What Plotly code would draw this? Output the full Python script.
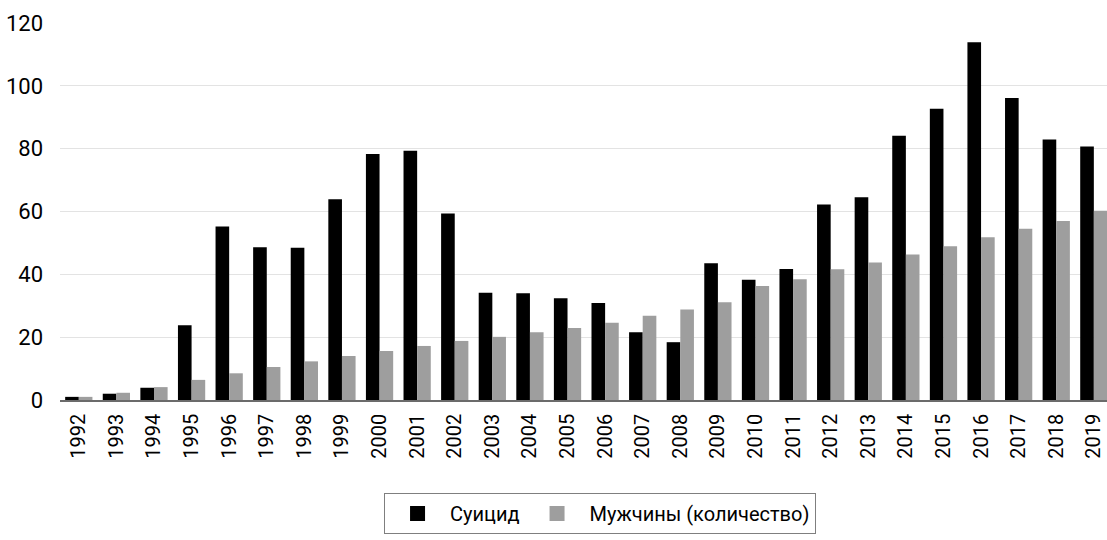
import plotly.graph_objects as go

years = [str(y) for y in range(1992, 2020)]
suicide = [1.0, 2.0, 3.9, 23.8, 55.2, 48.6, 48.5, 63.9, 78.3, 79.3,
           59.4, 34.1, 34.0, 32.4, 30.9, 21.6, 18.4, 43.5, 38.3, 41.7,
           62.2, 64.5, 84.1, 92.7, 113.9, 96.1, 82.9, 80.7]
men = [1.0, 2.3, 4.1, 6.4, 8.5, 10.5, 12.3, 14.0, 15.6, 17.2,
       18.8, 20.1, 21.6, 22.9, 24.6, 26.8, 28.8, 31.1, 36.3, 38.4,
       41.6, 43.8, 46.3, 48.9, 51.8, 54.5, 57.0, 60.2]
names = ["Суицид", "Мужчины (количество)"]
colors = ["#000000", "#9e9e9e"]

FONT = "Roboto, 'Noto Sans', sans-serif"

fig = go.Figure()
for vals, name, col in zip([suicide, men], names, colors):
    fig.add_trace(go.Bar(x=years, y=vals, name=name, showlegend=False,
                         marker=dict(color=col, line=dict(width=0))))
# legend entries with square markers
for name, col in zip(names, colors):
    fig.add_trace(go.Scatter(x=[None], y=[None], mode="markers", name=name,
                             marker=dict(symbol="square", size=15, color=col)))

fig.update_layout(
    width=1107, height=540,
    margin=dict(l=60, r=0, t=23, b=140, autoexpand=False),
    paper_bgcolor="white", plot_bgcolor="white",
    barmode="group", bargap=0.275, bargroupgap=0,
    font=dict(family=FONT, color="#000000", size=20),
    showlegend=True,
    legend=dict(orientation="h", x=0.3095, xanchor="left", y=-0.2467, yanchor="top",
                bordercolor="#7f7f7f", borderwidth=1, bgcolor="white",
                font=dict(family=FONT, size=20, color="#000000"),
                itemwidth=55, tracegroupgap=0),
    xaxis=dict(type="category", range=[-0.5, 27.35], tickangle=-90,
               tickfont=dict(family=FONT, size=20, color="#000000"),
               showline=True, linecolor="#6b6b6b", linewidth=1.5,
               showgrid=False, ticks="", ticklabelstandoff=4),
    yaxis=dict(range=[0, 120], tickvals=[0, 20, 40, 60, 80, 100, 120],
               tickfont=dict(family=FONT, size=22, color="#000000"),
               showgrid=True, gridcolor="#e3e3e3", gridwidth=1,
               zeroline=False, showline=False, ticks="",
               ticklabelstandoff=16),
)

fig.write_html("out.html", config={"displayModeBar": False},
               post_script="document.body.style.margin='0';")
